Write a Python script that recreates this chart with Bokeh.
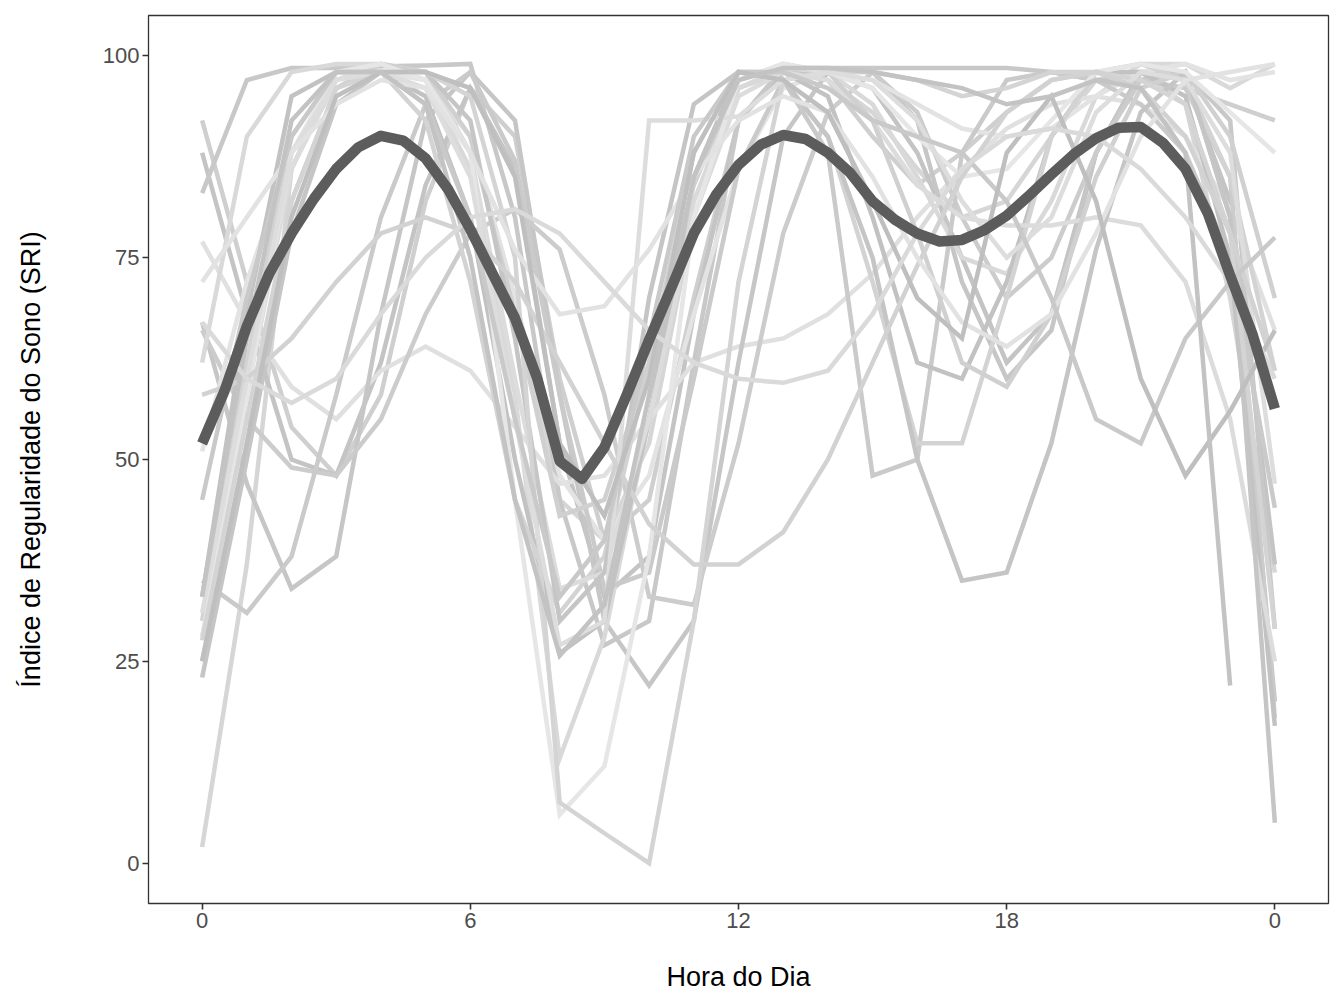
from bokeh.plotting import figure
from bokeh.models import Range1d, FixedTicker
from bokeh.embed import file_html
from bokeh.resources import INLINE

nan = float("nan")

# Hour of day (0..24) at which every participant curve is sampled
hours = list(range(25))
# Half-hour grid for the mean curve
half_hours = [h / 2 for h in range(49)]

# Individual participants' SRI curves (values read at each hour)
p00 = [2, 37, 86, 98, 98, 97, 90, 70, 45, 40, 52, 80, 96, 98, 97, 93, 86, 80, 82, 90, 97, 98, 94, 70, 36]
p01 = [92, 72, 54, 48, 58, 82, 96, 90, 60, 40, 45, 70, 92, 98, 97, 90, 84, 88, 93, 97, 98, 97, 96, 94, 92]
p02 = [88, 68, 50, 48, 62, 84, 96, 86, 52, 33, 38, 68, 92, 98, 98, 96, 88, 75, 62, 68, 88, 98, 97, 82, 37]
p03 = [83, 97, 98.5, 98.5, 98.7, 98.8, 99, 80, 45, 27, 30, 62, 92, 98.5, 98.5, 98.5, 98.5, 98.5, 98.5, 98, 97, 97, 98, 92, 29]
p04 = [77, 67, 59, 55, 61, 64, 61, 54, 47, 48, 55, 62, 64, 65, 68, 73, 80, 86, 91, 94, 95, 94, 90, 81, 66]
p05 = [67, 47, 34, 38, 68, 92, 98, 92, 58, 30, 22, 30, 62, 90, 98, 98, 92, 72, 60, 66, 88, 98, 98, 80, 20]
p06 = [66, 55, 49, 48, 55, 68, 78, 81, 76, 58, 33, 32, 52, 78, 93, 98, 93, 80, 70, 75, 88, 97, 96, 85, 18]
p07 = [62, 90, 98, 99, 99, 97, 86, 58, 13, 28, 55, 82, 96, 98.5, 98, 94, 85, 75, 73, 82, 95, 99, 99, 96, 99]
p08 = [51, 72, 88, 96, 98, 97, 90, 70, 48, 40, 48, 68, 86, 96, 98, 97, 94, 91, 90, 91, 95, 98, 99, 97, 98]
p09 = [35, 31, 38, 58, 80, 94, 98, 87, 58, 34, 36, 60, 86, 97, 88, 48, 50, 88, 97, 98, 97, 94, 88, 75, 44]
p10 = [33, 68, 95, 98, 98, 95, 80, 50, 26, 30, 55, 85, 98, 98, 95, 80, 62, 60, 72, 90, 98, 98, 95, 75, 17]
p11 = [30, 62, 90, 98, 98, 92, 72, 45, 31, 38, 62, 88, 98, 97, 90, 72, 52, 52, 70, 90, 98, 99, 97, 85, 61]
p12 = [28, 58, 86, 97, 99, 98, 88, 60, 34, 36, 55, 80, 95, 98, 97, 92, 84, 80, 79, 79, 80, 79, 72, 55, 25]
p13 = [25, 52, 82, 96, 99, 98, 90, 68, 43, 45, 62, 84, 97, 99, 98, 92, 78, 62, 59, 68, 85, 96, 98, 90, 70]
p14 = [23, 50, 78, 94, 98, 98, 92, 65, 30, 36, 70, 94, 98, 97, 90, 75, 50, 35, 36, 52, 76, 93, 98, 80, 5]
p15 = [28, 58, 88, 98, 99, 97, 88, 45, 6, 12, 38, 80, 97, 99, 98, 96, 90, 85, 86, 92, 98, 99, 98, 93, 88]
p16 = [27.6, 55, 82, 96, 98, 98, 95, 75, 7.5, 3.7, 0, 30, 72, 97, 98, 98, 97, 95, 96, 98, 98, 97, 94, 78, 29]
p17 = [31, 60, 88, 97, 98, 96, 85, 55, 27, 30, 92, 92, 92.5, 97, 98, 97, 92, 82, 75, 80, 93, 98, 97, 88, 47]
p18 = [58, 60, 65, 72, 78, 80, 78, 72, 62, 52, 42, 37, 37, 41, 50, 62, 74, 85, 93, 97, 98, 96, 90, 78, 61]
p19 = [72, 80, 88, 94, 97, 96, 88, 76, 68, 69, 76, 85, 92, 95, 93, 85, 75, 67, 64, 68, 78, 90, 97, 98, 99]
p20 = [45, 70, 90, 98, 98, 94, 80, 55, 33, 40, 65, 90, 98, 98, 96, 92, 90, 88, 82, 70, 55, 52, 65, 72, 77.5]
p21 = [25, 52, 80, 95, 98, 98, 96, 85, 52, 43, 60, 88, 98, 97, 93, 82, 70, 65, 88, 95, 82, 60, 48, 56, 66]
p22 = [33, 65, 92, 98, 98, 94, 75, 45, 25.7, 32, 58, 85, 97, 98.5, 98.5, 98, 97, 96, 94, 95, 97, 96, 88, 22, nan]
p23 = [67, 60, 57, 60, 68, 75, 80, 81, 78, 72, 66, 62, 60, 59.5, 61, 68, 78, 86, 90, 91, 90, 86, 80, 72, 60]

# Mean curve across participants (half-hourly)
mean_sri = [52, 58.5, 66.5, 73, 78, 82.3, 86, 88.7, 90.1, 89.5, 87.3, 83.5, 78.5, 73,
            67.5, 60, 49.8, 47.6, 51.5, 58, 64.8, 71.3, 78, 82.8, 86.5, 89, 90.2,
            89.7, 88, 85.5, 82, 79.7, 78, 77, 77.2, 78.4, 80.2, 82.7, 85.3, 87.8,
            89.8, 91.1, 91.2, 89.2, 86, 80.5, 72.8, 65.5, 56.3]

participants = [p00, p01, p02, p03, p04, p05, p06, p07, p08, p09, p10, p11,
                p12, p13, p14, p15, p16, p17, p18, p19, p20, p21, p22, p23]
greys = ["#D6D6D6", "#CFCFCF", "#C4C4C4", "#C8C8C8", "#E0E0E0", "#C6C6C6",
         "#CCCCCC", "#D9D9D9", "#E3E3E3", "#CACACA", "#C2C2C2", "#D3D3D3",
         "#DCDCDC", "#D0D0D0", "#C5C5C5", "#E6E6E6", "#D4D4D4", "#DDDDDD",
         "#D2D2D2", "#E2E2E2", "#C9C9C9", "#BFBFBF", "#C3C3C3", "#DADADA"]

x_ticks = [0, 6, 12, 18, 24]
x_tick_labels = {0: "0", 6: "6", 12: "12", 18: "18", 24: "0"}
y_ticks = [0, 25, 50, 75, 100]

p = figure(width=1336, height=1000, output_backend="svg", toolbar_location=None,
           x_range=Range1d(-1.2, 25.2), y_range=Range1d(-5, 105),
           min_border_left=148, min_border_right=8, min_border_top=15,
           min_border_bottom=97)

for vals, col in zip(participants, greys):
    p.line(hours, vals, line_color=col, line_width=4.5, line_join="miter")

p.line(half_hours, mean_sri, line_color="#5C5C5C", line_width=10.5,
       line_join="round")

p.xgrid.visible = False
p.ygrid.visible = False
p.outline_line_color = "#333333"
p.outline_line_width = 1.3
p.background_fill_color = "white"
p.border_fill_color = "white"

for ax in (p.xaxis[0], p.yaxis[0]):
    ax.axis_line_color = None
    ax.major_tick_line_color = "#333333"
    ax.major_tick_line_width = 1.6
    ax.major_tick_out = 6
    ax.major_tick_in = 0
    ax.minor_tick_line_color = None
    ax.major_label_text_font = "Liberation Sans"
    ax.major_label_text_font_size = "22px"
    ax.major_label_text_color = "#4D4D4D"
    ax.axis_label_text_font = "Liberation Sans"
    ax.axis_label_text_font_size = "27px"
    ax.axis_label_text_font_style = "normal"
    ax.axis_label_text_color = "#000000"
    ax.major_label_standoff = 3

p.xaxis.ticker = FixedTicker(ticks=x_ticks)
p.xaxis.major_label_overrides = x_tick_labels
p.yaxis.ticker = FixedTicker(ticks=y_ticks)
p.xaxis.axis_label = "Hora do Dia"
p.yaxis.axis_label = "Índice de Regularidade do Sono (SRI)"
p.xaxis.axis_label_standoff = 31
p.yaxis.axis_label_standoff = 54

open("out.html", "w").write(file_html(p, INLINE))
